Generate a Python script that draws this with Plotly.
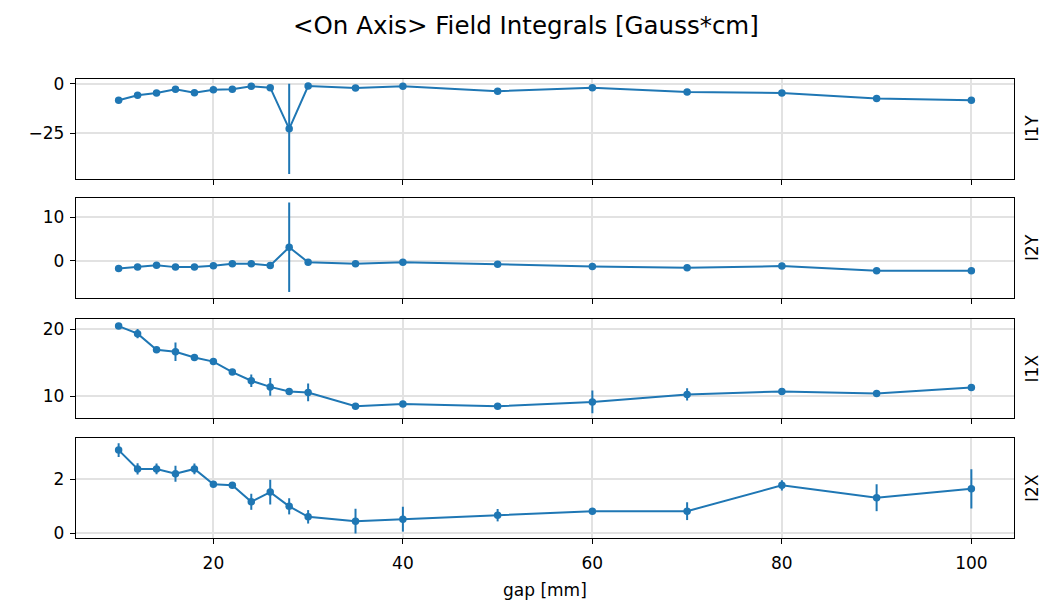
import plotly.graph_objects as go

W, H = 1048, 607

gap = [10, 12, 14, 16, 18, 20, 22, 24, 26, 28, 30, 35, 40, 50, 60, 70, 80, 90, 100]

I1Y = [-8.3, -5.8, -4.7, -2.8, -4.5, -3.0, -2.8, -1.3, -2.0, -22.75, -1.2, -2.2, -1.3, -3.8, -2.0, -4.2, -4.7, -7.5, -8.3]
I1Y_err = [0.3, 0.3, 0.3, 0.3, 0.3, 0.3, 0.3, 0.3, 0.3, 22.75, 0.3, 0.3, 0.3, 0.3, 0.3, 0.3, 1.0, 0.3, 0.3]

I2Y = [-1.73, -1.43, -0.98, -1.43, -1.43, -1.13, -0.68, -0.68, -1.05, 3.1, -0.3, -0.68, -0.3, -0.75, -1.29, -1.6, -1.2, -2.27, -2.27]
I2Y_err = [0.1, 0.1, 0.1, 0.1, 0.1, 0.1, 0.1, 0.1, 0.1, 10.2, 0.1, 0.1, 0.1, 0.1, 0.1, 0.1, 0.1, 0.1, 0.1]

I1X = [20.5, 19.36, 16.95, 16.65, 15.8, 15.17, 13.6, 12.3, 11.38, 10.7, 10.54, 8.47, 8.8, 8.47, 9.12, 10.25, 10.7, 10.4, 11.27]
I1X_err = [0.2, 0.7, 0.3, 1.4, 0.3, 0.3, 0.3, 0.95, 1.33, 0.3, 1.33, 0.3, 0.3, 0.3, 1.7, 0.93, 0.3, 0.3, 0.4]

I2X = [3.09, 2.39, 2.39, 2.21, 2.39, 1.82, 1.78, 1.17, 1.53, 1.0, 0.61, 0.45, 0.52, 0.67, 0.82, 0.82, 1.78, 1.32, 1.65]
I2X_err = [0.26, 0.21, 0.2, 0.3, 0.2, 0.05, 0.05, 0.3, 0.46, 0.3, 0.25, 0.46, 0.46, 0.23, 0.05, 0.33, 0.19, 0.5, 0.73]

series = [("I1Y", I1Y, I1Y_err), ("I2Y", I2Y, I2Y_err), ("I1X", I1X, I1X_err), ("I2X", I2X, I2X_err)]
yranges = [[-47.8, 2.5], [-8.5, 14.4], [6.7, 21.6], [-0.18, 3.55]]
ytickvals = [[-25, 0], [0, 10], [10, 20], [0, 2]]

# panel pixel extents (top, bottom)
panels = [(75, 176.5), (196, 298), (319, 420), (440, 542)]
x_left, x_right = 76, 1014

BLUE = "#1f77b4"
FONT = "DejaVu Sans"
TICK = 17

fig = go.Figure()
layout = dict(
    width=W, height=H,
    margin=dict(l=0, r=0, t=0, b=0),
    paper_bgcolor="white", plot_bgcolor="white",
    showlegend=False,
    font=dict(family=FONT, size=TICK, color="#000000"),
)
annotations = []
for i, (name, vals, errs) in enumerate(series):
    n = i + 1
    xa = "x" if n == 1 else f"x{n}"
    ya = "y" if n == 1 else f"y{n}"
    fig.add_trace(go.Scatter(
        x=gap, y=vals, xaxis=xa, yaxis=ya,
        mode="lines+markers",
        line=dict(color=BLUE, width=2),
        marker=dict(color=BLUE, size=7.5),
        error_y=dict(type="data", array=errs, visible=True, color=BLUE, thickness=2, width=0),
    ))
    top, bot = panels[i]
    dom = [1 - bot / H, 1 - top / H]
    xkey = "xaxis" if n == 1 else f"xaxis{n}"
    ykey = "yaxis" if n == 1 else f"yaxis{n}"
    layout[xkey] = dict(
        domain=[x_left / W, x_right / W], range=[5.5, 104.5], anchor=ya,
        tickvals=[20, 40, 60, 80, 100], showticklabels=(n == 4),
        ticks="outside", ticklen=5, tickwidth=1.3, tickcolor="#000",
        showline=True, linecolor="#000", linewidth=1.3, mirror=True,
        showgrid=True, gridcolor="#e2e2e2", gridwidth=1.5, zeroline=False,
        tickfont=dict(size=TICK), ticklabelstandoff=4,
    )
    if n != 1:
        layout[xkey]["matches"] = "x"
    layout[ykey] = dict(
        domain=dom, range=yranges[i], anchor=xa,
        tickvals=ytickvals[i],
        ticks="outside", ticklen=5, tickwidth=1.3, tickcolor="#000",
        showline=True, linecolor="#000", linewidth=1.3, mirror=True,
        showgrid=True, gridcolor="#e2e2e2", gridwidth=1.5, zeroline=False,
        tickfont=dict(size=TICK), ticklabelstandoff=2,
    )
    annotations.append(dict(
        text=name, x=1032 / W, y=1 - (top + bot) / 2 / H, xref="paper", yref="paper",
        xanchor="center", yanchor="middle", showarrow=False, textangle=-90,
        font=dict(size=TICK, family=FONT),
    ))

annotations.append(dict(
    text="&lt;On Axis&gt; Field Integrals [Gauss*cm]", x=526 / W, y=1 - 21 / H,
    xref="paper", yref="paper", xanchor="center", yanchor="middle", showarrow=False,
    font=dict(size=24.5, family=FONT),
))
annotations.append(dict(
    text="gap [mm]", x=(x_left + x_right) / 2 / W, y=1 - 595 / H,
    xref="paper", yref="paper", xanchor="center", yanchor="middle", showarrow=False,
    font=dict(size=TICK, family=FONT),
))
layout["annotations"] = annotations
fig.update_layout(**layout)
fig.write_html("out.html")
